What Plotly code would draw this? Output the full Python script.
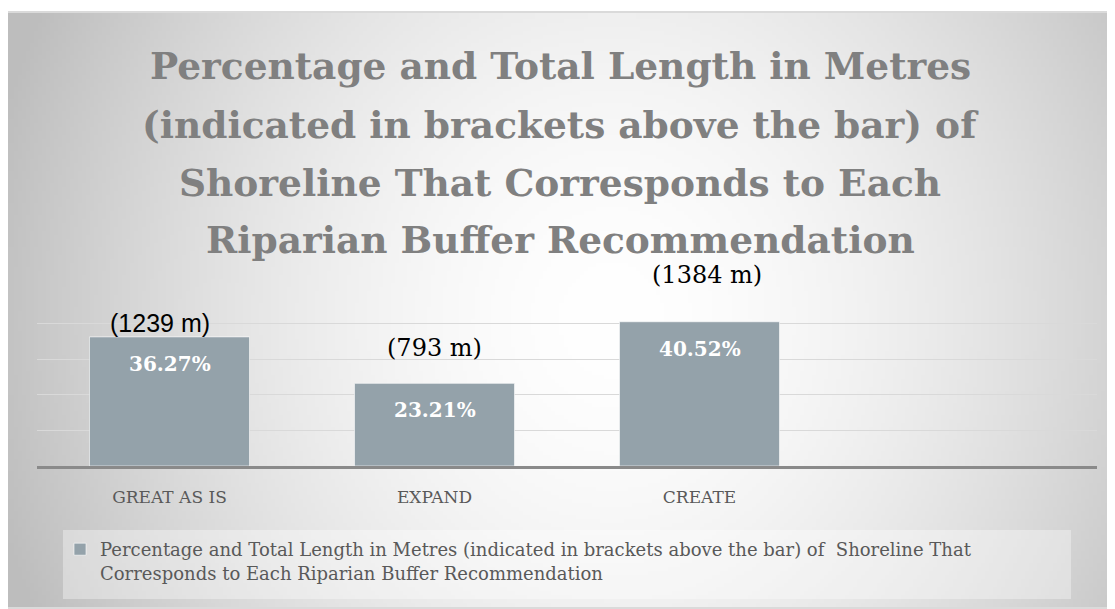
import base64
import struct
import zlib

import numpy as np
import plotly.graph_objects as go

# ---------------- data ----------------
categories = ["GREAT AS IS", "EXPAND", "CREATE"]
percent_values = [0.3627, 0.2321, 0.4052]
percent_labels = ["36.27%", "23.21%", "40.52%"]
length_labels = ["(1239 m)", "(793 m)", "(1384 m)"]
series_name = ("Percentage and Total Length in Metres (indicated in brackets above the bar) of  Shoreline That"
               "<br>Corresponds to Each Riparian Buffer Recommendation")
title_lines = [
    "Percentage and Total Length in Metres",
    "(indicated in brackets above the bar) of",
    "Shoreline That Corresponds to Each",
    "Riparian Buffer Recommendation",
]

# ---------------- layout geometry (reference pixels) ----------------
OFF = 8                      # page body margin offset
W, H = 1115 - OFF, 609 - OFF  # figure size
PL, PR, PT, PB = 37, 1097, 288, 466  # plot area in reference pixels


def px_x(px):
    return (px - PL) / (PR - PL)


def px_y(py):
    return (PB - py) / (PB - PT)


# ---------------- background gradient image ----------------
def gradient_png(x0, y0, w, h, scale=4):
    gw, gh = w // scale, h // scale
    xs = (np.arange(gw) + 0.5) * scale + x0
    ys = (np.arange(gh) + 0.5) * scale + y0
    X, Y = np.meshgrid(xs, ys)
    d = np.sqrt(((X - 610) / 580.0) ** 2 + ((Y - 320) / 640.0) ** 2)
    d = np.clip(d, 0, 1.1)
    c = 255 - 56 * d ** 1.7
    c = np.clip(c, 0, 255).astype(np.uint8)
    raw = b"".join(b"\x00" + bytes(np.repeat(row, 3)) for row in c)

    def chunk(tag, data):
        return (struct.pack(">I", len(data)) + tag + data +
                struct.pack(">I", zlib.crc32(tag + data) & 0xffffffff))

    png = (b"\x89PNG\r\n\x1a\n" +
           chunk(b"IHDR", struct.pack(">IIBBBBB", gw, gh, 8, 2, 0, 0, 0)) +
           chunk(b"IDAT", zlib.compress(raw, 9)) +
           chunk(b"IEND", b""))
    return "data:image/png;base64," + base64.b64encode(png).decode()


BG_X0, BG_Y0 = 8, 13
bg_src = gradient_png(BG_X0, BG_Y0, 1115 - BG_X0, 609 - BG_Y0)

# ---------------- figure ----------------
fig = go.Figure()
fig.add_trace(go.Bar(
    x=categories,
    y=percent_values,
    name=series_name,
    marker=dict(color="#94a2aa", line=dict(color="rgba(255,255,255,0.6)", width=1)),
    hoverinfo="skip",
))

annotations = []
# title lines
title_centers = [66, 125, 183, 240]
for line, cy in zip(title_lines, title_centers):
    annotations.append(dict(
        text=line, xref="paper", yref="paper", x=px_x(560), y=px_y(cy),
        xanchor="center", yanchor="middle", showarrow=False,
        font=dict(family="DejaVu Serif", size=37.5, color="#808080", weight="bold"),
    ))

# percentage labels inside bars
for cat, val, lab in zip(categories, percent_values, percent_labels):
    annotations.append(dict(
        text=lab, x=cat, y=val, xref="x", yref="y", yanchor="middle",
        yshift=-27, showarrow=False,
        font=dict(family="DejaVu Serif", size=20, color="white", weight="bold"),
    ))

# length labels above bars
length_shift = [(-10, 14), (0, 35), (7, 47)]
length_fonts = [
    dict(family="Liberation Sans", size=25, color="#000000"),
    dict(family="DejaVu Serif", size=24, color="#000000"),
    dict(family="DejaVu Serif", size=24, color="#000000"),
]
for cat, val, lab, (dx, dy), fnt in zip(categories, percent_values, length_labels, length_shift, length_fonts):
    annotations.append(dict(
        text=lab, x=cat, y=val, xref="x", yref="y", yanchor="middle",
        xshift=dx, yshift=dy, showarrow=False, font=fnt,
    ))

fig.update_layout(
    width=W, height=H,
    margin=dict(l=PL - OFF, r=1115 - PR, t=PT - OFF, b=609 - PB),
    paper_bgcolor="white",
    plot_bgcolor="rgba(0,0,0,0)",
    bargap=0.396,
    showlegend=True,
    legend=dict(
        orientation="v", x=px_x(60), y=px_y(531), xanchor="left", yanchor="top",
        xref="paper", yref="paper", bgcolor="rgba(0,0,0,0)", valign="top",
        font=dict(family="DejaVu Serif", size=18, color="#595959"),
    ),
    xaxis=dict(
        type="category", range=[-0.5, 3.5], showgrid=False,
        showline=True, linecolor="#8a8a8a", linewidth=3,
        ticks="", ticklabelstandoff=14,
        tickfont=dict(family="DejaVu Serif", size=17, color="#595959"),
        fixedrange=True,
    ),
    yaxis=dict(
        range=[0, 0.5], dtick=0.1, tick0=0, showgrid=True, gridcolor="#d9d9d9",
        gridwidth=1, zeroline=False, showticklabels=False, showline=False,
        fixedrange=True,
    ),
    images=[dict(
        source=bg_src, xref="paper", yref="paper", x=px_x(BG_X0), y=px_y(BG_Y0),
        sizex=(1115 - BG_X0) / (PR - PL), sizey=(609 - BG_Y0) / (PB - PT),
        xanchor="left", yanchor="top", sizing="stretch", layer="below",
    )],
    shapes=[
        dict(type="rect", xref="paper", yref="paper",
             x0=px_x(7), x1=px_x(1120), y0=px_y(12), y1=px_y(608),
             line=dict(color="#dadada", width=2), fillcolor="rgba(0,0,0,0)", layer="below"),
        dict(type="rect", xref="paper", yref="paper",
             x0=px_x(63), x1=px_x(1071), y0=px_y(530), y1=px_y(599),
             line=dict(width=0), fillcolor="rgba(255,255,255,0.35)", layer="below"),
    ],
    annotations=annotations,
)

fig.write_html("out.html")
